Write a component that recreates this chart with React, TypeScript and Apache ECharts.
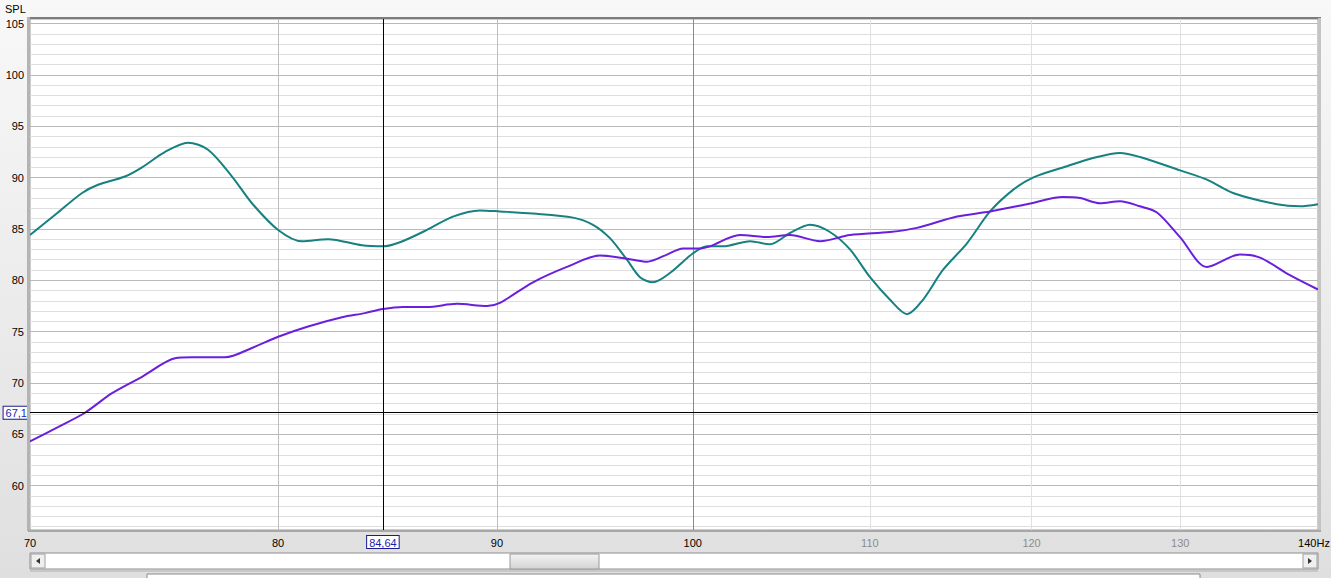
import React, { useEffect, useRef } from "react";
import * as echarts from "echarts";

// ---- data (frequency in Hz, SPL in dB) ----
const TEAL_FREQ = [70.0, 71.06, 71.99, 72.61, 73.67, 74.35, 75.28, 76.21, 77.04, 78.04, 78.88, 80.0, 81.03, 82.18, 83.69, 84.64, 85.42, 86.67, 87.89, 89.18, 90.14, 91.76, 93.76, 94.77, 95.64, 96.52, 97.2, 97.88, 98.78, 100.0, 100.77, 101.64, 103.13, 104.24, 105.37, 106.51, 107.66, 108.83, 110.01, 111.2, 112.22, 113.19, 114.41, 115.9, 117.35, 118.81, 120.09, 122.31, 124.03, 125.85, 127.21, 129.98, 131.88, 133.74, 136.94, 138.65, 140.0];
const TEAL_SPL = [84.4, 86.6, 88.5, 89.3, 90.1, 91.0, 92.5, 93.4, 92.7, 90.1, 87.5, 84.9, 83.8, 84.0, 83.4, 83.3, 83.7, 84.9, 86.2, 86.8, 86.7, 86.5, 86.1, 85.4, 84.1, 82.0, 80.3, 79.8, 80.7, 82.6, 83.3, 83.3, 83.8, 83.5, 84.6, 85.4, 84.7, 83.0, 80.3, 78.1, 76.7, 78.1, 81.0, 83.6, 86.7, 88.8, 90.0, 91.1, 91.9, 92.4, 92.0, 90.7, 89.8, 88.5, 87.4, 87.2, 87.4];

const PURPLE_FREQ = [70.0, 71.06, 72.1, 73.16, 74.35, 75.68, 76.38, 77.75, 78.88, 80.0, 81.3, 82.8, 83.83, 84.64, 85.56, 86.67, 88.08, 89.52, 90.14, 91.76, 93.45, 95.13, 96.52, 97.57, 98.62, 99.47, 100.39, 100.93, 102.57, 104.07, 105.37, 107.09, 108.83, 111.2, 112.82, 115.28, 117.35, 119.71, 122.05, 123.17, 124.5, 125.85, 127.21, 128.38, 129.98, 131.88, 134.24, 135.7, 137.9, 140.0];
const PURPLE_SPL = [64.3, 65.7, 67.1, 69.0, 70.6, 72.4, 72.5, 72.5, 73.4, 74.5, 75.5, 76.4, 76.8, 77.2, 77.4, 77.4, 77.7, 77.5, 77.8, 79.8, 81.3, 82.4, 82.1, 81.8, 82.5, 83.1, 83.1, 83.3, 84.4, 84.2, 84.4, 83.8, 84.4, 84.7, 85.1, 86.2, 86.7, 87.4, 88.1, 88.0, 87.5, 87.7, 87.2, 86.6, 84.2, 81.3, 82.5, 82.2, 80.5, 79.1];

const X_MIN = 70;
const X_MAX = 140;
const Y_MIN = 55.68;
const Y_MAX = 105.44;

const Y_LABELS = [60, 65, 70, 75, 80, 85, 90, 95, 100, 105];
const X_TICKS = [70, 80, 90, 100, 110, 120, 130, 140];
const X_TICK_TEXT = ["70", "80", "90", "100", "110", "120", "130", "140Hz"];

const CURSOR_FREQ = 84.64;
const CURSOR_SPL = 67.1;

const FONT = "'Liberation Sans', Arial, sans-serif";

function pairs(xs: number[], ys: number[]) {
  return xs.map((x, i) => [x, ys[i]]);
}

export default function App() {
  const ref = useRef<HTMLDivElement>(null);

  useEffect(() => {
    if (!ref.current) return;
    const chart = echarts.init(ref.current, undefined, { renderer: "svg" });

    const vColor = (v: number) =>
      v === X_MIN || v === X_MAX
        ? "rgba(0,0,0,0)"
        : v === 100
        ? "#8a8a8a"
        : v === 80 || v === 90
        ? "#bdbdbd"
        : "#e0e0e0";
    const vLabelColor = (v: number) => (v >= 110 && v <= 130 ? "#8c8c8c" : "#000");

    const vLines = X_TICKS.map((v, i) => ({
      xAxis: v,
      lineStyle: { color: vColor(v), width: 1, type: "solid" },
      label: {
        show: true,
        position: "start",
        formatter: X_TICK_TEXT[i],
        color: vLabelColor(v),
        fontSize: 11,
        fontFamily: FONT,
        distance: 7,
        padding: v === X_MAX ? [0, 8, 0, 0] : 0,
      },
    }));

    const hLines: any[] = [];
    for (let v = 56; v <= 105; v++) {
      const major = v % 5 === 0;
      hLines.push({
        yAxis: v,
        lineStyle: { color: major ? "#b9b9b9" : "#dedede", width: 1, type: "solid" },
        label: {
          show: Y_LABELS.indexOf(v) >= 0,
          position: "start",
          formatter: String(v),
          color: "#000",
          fontSize: 11,
          fontFamily: FONT,
          distance: 6,
        },
      });
    }

    const cursorLabel = {
      show: true,
      position: "start",
      color: "#1c1cb0",
      fontSize: 11,
      fontFamily: FONT,
      backgroundColor: "#ffffff",
      borderColor: "#1a1a8c",
      borderWidth: 1,
      padding: [1, 2, 0, 2],
    };

    chart.setOption({
      animation: false,
      backgroundColor: "transparent",
      grid: {
        left: 30,
        right: 13,
        top: 19,
        bottom: 48,
        show: true,
        backgroundColor: "#ffffff",
        borderColor: "#9a9a9a",
        borderWidth: 1,
      },
      xAxis: {
        type: "log",
        logBase: 10,
        min: X_MIN,
        max: X_MAX,
        axisLabel: { show: false },
        axisTick: { show: false },
        axisLine: { show: false },
        splitLine: { show: false },
      },
      yAxis: {
        type: "value",
        min: Y_MIN,
        max: Y_MAX,
        axisLabel: { show: false },
        axisTick: { show: false },
        axisLine: { show: false },
        splitLine: { show: false },
      },
      graphic: [
        {
          type: "text",
          left: 5,
          top: 3,
          style: { text: "SPL", fontSize: 11, fontFamily: FONT, fill: "#000" },
        },
        // plot frame bevels
        { type: "rect", shape: { x: 27, y: 17, width: 1294, height: 2 }, style: { fill: "#7c7c7c" }, z: 10 },
        { type: "rect", shape: { x: 27, y: 17, width: 3, height: 514 }, style: { fill: "#b4b4b4" }, z: 10 },
        { type: "rect", shape: { x: 1318, y: 18, width: 3, height: 514 }, style: { fill: "#c4c4c4" }, z: 10 },
        { type: "rect", shape: { x: 28, y: 530, width: 1293, height: 2 }, style: { fill: "#a8a8a8" }, z: 10 },
        // scrollbar
        { type: "rect", shape: { x: 30, y: 553, width: 1288, height: 16 }, style: { fill: "#ffffff", stroke: "#8e8e8e", lineWidth: 1 } },
        { type: "rect", shape: { x: 31, y: 554, width: 14, height: 14 }, style: { fill: "#efefef", stroke: "#a0a0a0", lineWidth: 1 } },
        { type: "polygon", shape: { points: [[36, 561], [40, 558], [40, 564]] }, style: { fill: "#333" } },
        { type: "rect", shape: { x: 1303, y: 554, width: 14, height: 14 }, style: { fill: "#efefef", stroke: "#a0a0a0", lineWidth: 1 } },
        { type: "polygon", shape: { points: [[1312, 561], [1308, 558], [1308, 564]] }, style: { fill: "#333" } },
        {
          type: "rect",
          shape: { x: 510, y: 554, width: 89, height: 15 },
          style: {
            fill: new echarts.graphic.LinearGradient(0, 0, 0, 1, [
              { offset: 0, color: "#f4f4f4" },
              { offset: 1, color: "#d2d2d2" },
            ]),
            stroke: "#9a9a9a",
            lineWidth: 1,
          },
        },
        { type: "line", shape: { x1: 30, y1: 571, x2: 1318, y2: 571 }, style: { stroke: "#b0b0b0", lineWidth: 1 } },
        { type: "rect", shape: { x: 147, y: 574, width: 1053, height: 10 }, style: { fill: "#ffffff", stroke: "#8a8a8a", lineWidth: 1 } },
      ],
      series: [
        {
          name: "grid",
          type: "line",
          data: [],
          z: 1,
          silent: true,
          markLine: {
            silent: true,
            z: 1,
            symbol: ["none", "none"],
            animation: false,
            data: [...hLines, ...vLines],
          },
        },
        {
          name: "teal",
          type: "line",
          data: pairs(TEAL_FREQ, TEAL_SPL),
          smooth: 0.3,
          showSymbol: false,
          symbol: "none",
          z: 3,
          lineStyle: { color: "#178080", width: 2 },
        },
        {
          name: "purple",
          type: "line",
          data: pairs(PURPLE_FREQ, PURPLE_SPL),
          smooth: 0.3,
          showSymbol: false,
          symbol: "none",
          z: 4,
          lineStyle: { color: "#6a1fdc", width: 2 },
        },
        {
          name: "cursor",
          type: "line",
          data: [],
          z: 6,
          silent: true,
          markLine: {
            silent: true,
            z: 6,
            symbol: ["none", "none"],
            animation: false,
            data: [
              {
                xAxis: CURSOR_FREQ,
                lineStyle: { color: "#000", width: 1, type: "solid" },
                label: { ...cursorLabel, formatter: "84,64", distance: 6 },
              },
              {
                yAxis: CURSOR_SPL,
                lineStyle: { color: "#000", width: 1, type: "solid" },
                label: { ...cursorLabel, formatter: "67,1", distance: 1 },
              },
            ],
          },
        },
      ],
    });

    return () => chart.dispose();
  }, []);

  return (
    <div
      style={{
        position: "fixed",
        left: 0,
        top: 0,
        width: 1331,
        height: 578,
        background: "linear-gradient(to bottom, #f8f8f8 0%, #ececec 50%, #dfdfdf 100%)",
      }}
    >
      <div ref={ref} style={{ width: 1331, height: 578 }} />
    </div>
  );
}
